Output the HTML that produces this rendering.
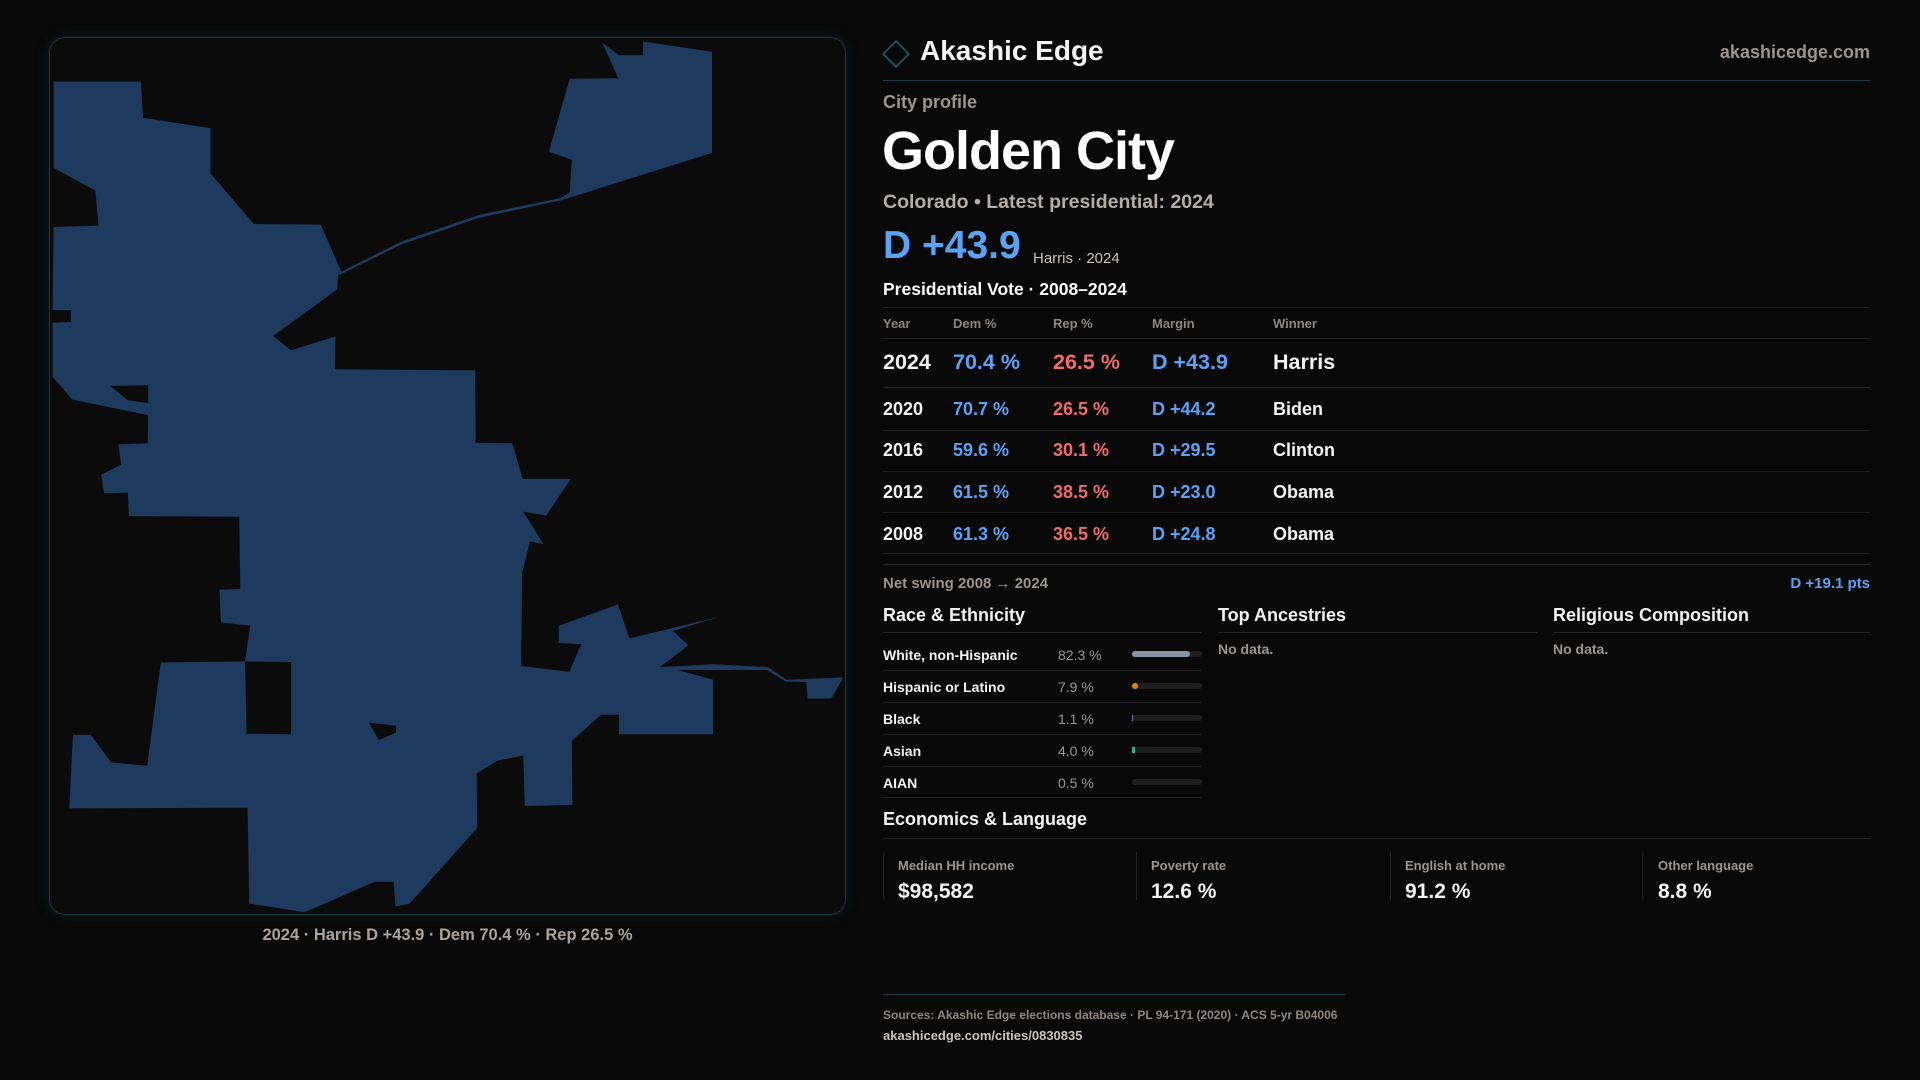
<!DOCTYPE html>
<html><head><meta charset="utf-8"><style>
*{margin:0;padding:0;box-sizing:border-box}
body{width:1920px;height:1080px;background:#080808;font-family:"Liberation Sans",sans-serif;color:#f2f2f2;position:relative;overflow:hidden}
.a{position:absolute;white-space:nowrap}
.g{color:#9a9590}
.b{color:#5aa2f5}
.r{color:#f26b6b}
.hl{position:absolute;height:1px;background:#222}
.t{transform:translateY(2px)}
</style></head><body>
<div class="a" style="left:49px;top:37px;width:797px;height:878px;border:1px solid #173b40;border-radius:16px;background:#0b0b0c;box-shadow:0 0 14px rgba(20,90,100,0.25)"></div>
<svg class="a" style="left:40px;top:30px" width="820" height="900" viewBox="0 0 1568 1568" preserveAspectRatio="none">
<polygon fill="#1e3a5e" points="26,90 193,90 197,153 326,171 326,250 409,338 537,339 576,421 690,369 840,322 995,293 1013,283 1017,226 973,212 1013,85 1106,84 1075,22 1107,44 1153,44 1153,20 1285,38 1285,214 1055,280 995,297 840,327 690,374 570,428 568,452 446,533 480,558 565,534 564,591 832,593 833,719 903,720 923,782 1015,782 968,846 924,839 963,896 937,891 922,945 920,1108 1012,1118 1035,1070 992,1068 992,1038 1105,1001 1127,1060 1300,1022 1210,1047 1240,1072 1185,1110 1288,1105 1392,1110 1428,1132 1536,1128 1513,1165 1468,1165 1465,1136 1426,1135 1390,1115 1220,1115 1287,1132 1287,1227 1107,1227 1107,1193 1073,1193 1017,1238 1018,1350 927,1352 924,1264 875,1273 835,1295 836,1390 707,1522 680,1527 676,1484 640,1484 506,1537 400,1522 397,1355 56,1356 63,1228 97,1228 136,1276 205,1282 231,1102 392,1100 402,1038 346,1032 343,975 383,974 381,848 170,847 168,806 123,807 117,775 155,757 150,722 206,720 207,671 62,644 24,604 24,510 59,509 59,488 24,488 26,343 112,341 106,280 26,240"/>
<g fill="#0b0b0c">
<polygon points="392,1100 480,1101 480,1227 395,1226"/>
<polygon points="629,1207 681,1212 681,1224 648,1237"/>
<polygon points="134,620 207,619 207,650 168,645"/>
</g>
</svg>
<div class="a t" style="left:49px;width:797px;top:924px;text-align:center;font-size:16.5px;font-weight:bold;color:#a8a39d">2024 · Harris D +43.9 · Dem 70.4 % · Rep 26.5 %</div>

<div class="a" style="left:886px;top:44px;width:20px;height:20px;border:2px solid #17525a;transform:rotate(45deg)"></div>
<div class="a t" style="left:920px;top:33px;font-size:28px;font-weight:bold;color:#f4f4f4">Akashic Edge</div>
<div class="a t" style="right:50px;top:40px;font-size:18px;font-weight:bold;color:#9a9590">akashicedge.com</div>
<div class="hl" style="left:883px;width:987px;top:80px;background:#163c42"></div>
<div class="a g t" style="left:883px;top:90px;font-size:18px;font-weight:bold">City profile</div>
<div class="a t" style="left:882px;top:118px;font-size:54px;font-weight:bold;color:#fff;letter-spacing:-1px">Golden City</div>
<div class="a g t" style="left:883px;top:189px;font-size:19.5px;font-weight:bold;color:#b3aea8">Colorado • Latest presidential: 2024</div>
<div class="a b t" style="left:883px;top:222px;font-size:39px;font-weight:bold">D +43.9</div>
<div class="a t" style="left:1033px;top:248px;font-size:15px;color:#c8c3bd">Harris · 2024</div>
<div class="a t" style="left:883px;top:277px;font-size:17.5px;font-weight:bold;color:#fff">Presidential Vote · 2008–2024</div>
<div class="hl" style="left:883px;width:987px;top:307px;background:#1c1c1c"></div>
<div class="a g t" style="left:883px;top:314px;font-size:13px;font-weight:bold;color:#8c8782">Year</div>
<div class="a g t" style="left:953px;top:314px;font-size:13px;font-weight:bold;color:#8c8782">Dem %</div>
<div class="a g t" style="left:1053px;top:314px;font-size:13px;font-weight:bold;color:#8c8782">Rep %</div>
<div class="a g t" style="left:1152px;top:314px;font-size:13px;font-weight:bold;color:#8c8782">Margin</div>
<div class="a g t" style="left:1273px;top:314px;font-size:13px;font-weight:bold;color:#8c8782">Winner</div>
<div class="hl" style="left:883px;width:987px;top:338px"></div>
<div class="a t" style="left:883px;top:348px;font-size:21.5px;font-weight:bold">2024</div>
<div class="a b t" style="left:953px;top:348px;font-size:21.5px;font-weight:bold">70.4 %</div>
<div class="a r t" style="left:1053px;top:348px;font-size:21.5px;font-weight:bold">26.5 %</div>
<div class="a b t" style="left:1152px;top:348px;font-size:21.5px;font-weight:bold">D +43.9</div>
<div class="a t" style="left:1273px;top:348px;font-size:21.5px;font-weight:bold">Harris</div>
<div class="hl" style="left:883px;width:987px;top:387px;background:#2a2a2a"></div>

<div class="a t" style="left:883px;top:397px;font-size:18px;font-weight:bold">2020</div>
<div class="a b t" style="left:953px;top:397px;font-size:18px;font-weight:bold">70.7 %</div>
<div class="a r t" style="left:1053px;top:397px;font-size:18px;font-weight:bold">26.5 %</div>
<div class="a b t" style="left:1152px;top:397px;font-size:18px;font-weight:bold">D +44.2</div>
<div class="a t" style="left:1273px;top:397px;font-size:18px;font-weight:bold">Biden</div>
<div class="hl" style="left:883px;width:987px;top:430px;background:#1c1c1c"></div>
<div class="a t" style="left:883px;top:438px;font-size:18px;font-weight:bold">2016</div>
<div class="a b t" style="left:953px;top:438px;font-size:18px;font-weight:bold">59.6 %</div>
<div class="a r t" style="left:1053px;top:438px;font-size:18px;font-weight:bold">30.1 %</div>
<div class="a b t" style="left:1152px;top:438px;font-size:18px;font-weight:bold">D +29.5</div>
<div class="a t" style="left:1273px;top:438px;font-size:18px;font-weight:bold">Clinton</div>
<div class="hl" style="left:883px;width:987px;top:471px;background:#1c1c1c"></div>
<div class="a t" style="left:883px;top:480px;font-size:18px;font-weight:bold">2012</div>
<div class="a b t" style="left:953px;top:480px;font-size:18px;font-weight:bold">61.5 %</div>
<div class="a r t" style="left:1053px;top:480px;font-size:18px;font-weight:bold">38.5 %</div>
<div class="a b t" style="left:1152px;top:480px;font-size:18px;font-weight:bold">D +23.0</div>
<div class="a t" style="left:1273px;top:480px;font-size:18px;font-weight:bold">Obama</div>
<div class="hl" style="left:883px;width:987px;top:512px;background:#1c1c1c"></div>
<div class="a t" style="left:883px;top:522px;font-size:18px;font-weight:bold">2008</div>
<div class="a b t" style="left:953px;top:522px;font-size:18px;font-weight:bold">61.3 %</div>
<div class="a r t" style="left:1053px;top:522px;font-size:18px;font-weight:bold">36.5 %</div>
<div class="a b t" style="left:1152px;top:522px;font-size:18px;font-weight:bold">D +24.8</div>
<div class="a t" style="left:1273px;top:522px;font-size:18px;font-weight:bold">Obama</div>
<div class="hl" style="left:883px;width:987px;top:553px;background:#1c1c1c"></div>
<div class="hl" style="left:883px;width:987px;top:564px;background:#2e2e2e"></div>

<div class="a g t" style="left:883px;top:573px;font-size:15px;font-weight:bold">Net swing 2008 → 2024</div>
<div class="a b t" style="right:50px;top:573px;font-size:15px;font-weight:bold">D +19.1 pts</div>

<div class="a t" style="left:883px;top:603px;font-size:18px;font-weight:bold">Race &amp; Ethnicity</div>
<div class="a t" style="left:1218px;top:603px;font-size:18px;font-weight:bold">Top Ancestries</div>
<div class="a t" style="left:1553px;top:603px;font-size:18px;font-weight:bold">Religious Composition</div>
<div class="hl" style="left:883px;width:318px;top:632px"></div>
<div class="hl" style="left:1218px;width:319px;top:632px"></div>
<div class="hl" style="left:1553px;width:317px;top:632px"></div>
<div class="a g t" style="left:1218px;top:639px;font-size:14px;font-weight:bold">No data.</div>
<div class="a g t" style="left:1553px;top:639px;font-size:14px;font-weight:bold">No data.</div>

<div class="a t" style="left:883px;top:645px;font-size:14px;font-weight:bold">White, non-Hispanic</div>
<div class="a g t" style="left:1058px;top:645px;font-size:14px">82.3 %</div>
<div class="a" style="left:1132px;top:651px;width:70px;height:6px;border-radius:3px;background:#1e1e1e"><div style="width:58px;height:6px;border-radius:3px;background:#8592a6"></div></div>
<div class="hl" style="left:883px;width:318px;top:670px"></div>
<div class="a t" style="left:883px;top:677px;font-size:14px;font-weight:bold">Hispanic or Latino</div>
<div class="a g t" style="left:1058px;top:677px;font-size:14px">7.9 %</div>
<div class="a" style="left:1132px;top:683px;width:70px;height:6px;border-radius:3px;background:#1e1e1e"><div style="width:6px;height:6px;border-radius:3px;background:#d98a0f"></div></div>
<div class="hl" style="left:883px;width:318px;top:702px"></div>
<div class="a t" style="left:883px;top:709px;font-size:14px;font-weight:bold">Black</div>
<div class="a g t" style="left:1058px;top:709px;font-size:14px">1.1 %</div>
<div class="a" style="left:1132px;top:715px;width:70px;height:6px;border-radius:3px;background:#1e1e1e"><div style="width:1px;height:6px;background:#8a6ae0"></div></div>
<div class="hl" style="left:883px;width:318px;top:734px"></div>
<div class="a t" style="left:883px;top:741px;font-size:14px;font-weight:bold">Asian</div>
<div class="a g t" style="left:1058px;top:741px;font-size:14px">4.0 %</div>
<div class="a" style="left:1132px;top:747px;width:70px;height:6px;border-radius:3px;background:#1e1e1e"><div style="width:3px;height:6px;background:#2bb580"></div></div>
<div class="hl" style="left:883px;width:318px;top:766px"></div>
<div class="a t" style="left:883px;top:773px;font-size:14px;font-weight:bold">AIAN</div>
<div class="a g t" style="left:1058px;top:773px;font-size:14px">0.5 %</div>
<div class="a" style="left:1132px;top:779px;width:70px;height:6px;border-radius:3px;background:#1e1e1e"></div>
<div class="hl" style="left:883px;width:318px;top:797px"></div>

<div class="a t" style="left:883px;top:807px;font-size:18px;font-weight:bold">Economics &amp; Language</div>
<div class="hl" style="left:883px;width:987px;top:838px"></div>
<div class="a" style="left:883px;top:852px;width:1px;height:48px;background:#222"></div>
<div class="a" style="left:1136px;top:852px;width:1px;height:48px;background:#222"></div>
<div class="a" style="left:1390px;top:852px;width:1px;height:48px;background:#222"></div>
<div class="a" style="left:1642px;top:852px;width:1px;height:48px;background:#222"></div>
<div class="a g t" style="left:898px;top:856px;font-size:13px;font-weight:bold">Median HH income</div>
<div class="a g t" style="left:1151px;top:856px;font-size:13px;font-weight:bold">Poverty rate</div>
<div class="a g t" style="left:1405px;top:856px;font-size:13px;font-weight:bold">English at home</div>
<div class="a g t" style="left:1658px;top:856px;font-size:13px;font-weight:bold">Other language</div>
<div class="a t" style="left:898px;top:878px;font-size:21px;font-weight:bold">$98,582</div>
<div class="a t" style="left:1151px;top:878px;font-size:21px;font-weight:bold">12.6 %</div>
<div class="a t" style="left:1405px;top:878px;font-size:21px;font-weight:bold">91.2 %</div>
<div class="a t" style="left:1658px;top:878px;font-size:21px;font-weight:bold">8.8 %</div>

<div class="hl" style="left:883px;width:463px;top:994px;background:#163c42"></div>
<div class="a g t" style="left:883px;top:1006px;font-size:12px;font-weight:bold;color:#8c8782">Sources: Akashic Edge elections database · PL 94-171 (2020) · ACS 5-yr B04006</div>
<div class="a t" style="left:883px;top:1026px;font-size:13px;font-weight:bold;color:#c8c3bd">akashicedge.com/cities/0830835</div>
</body></html>
